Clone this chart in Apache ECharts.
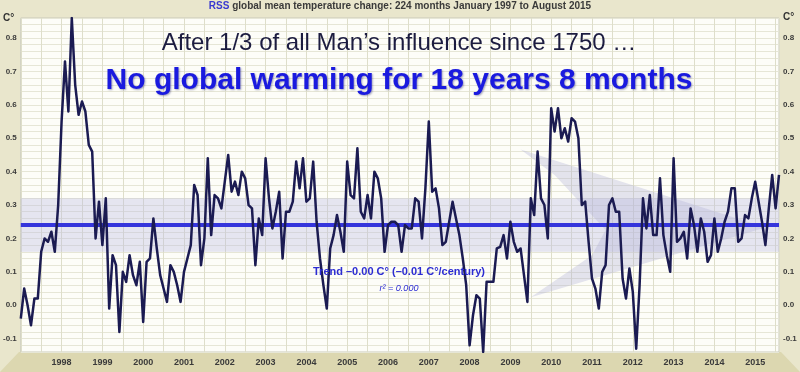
<!DOCTYPE html>
<html>
<head>
<meta charset="utf-8">
<script src="https://cdn.jsdelivr.net/npm/echarts@6/dist/echarts.min.js"></script>
<style>
html,body{margin:0;padding:0;background:#e9e6cc;}
#chart{width:800px;height:372px;}
</style>
</head>
<body>
<div id="chart"></div>
<script>
// Monthly RSS anomalies, Jan 1997 .. Aug 2015 (224 months)
const startYear = 1997;
const temps = [
 -0.04, 0.05, 0.00,-0.06, 0.02, 0.02, 0.16, 0.20, 0.19, 0.22, 0.16, 0.30,
  0.55, 0.73, 0.58, 0.86, 0.66, 0.57, 0.61, 0.58, 0.48, 0.46, 0.20, 0.31,
  0.18, 0.32,-0.01, 0.15, 0.12,-0.08, 0.10, 0.07, 0.15, 0.09, 0.06, 0.13,
 -0.05, 0.13, 0.14, 0.26, 0.17, 0.09, 0.05, 0.01, 0.12, 0.10, 0.06, 0.01,
  0.10, 0.14, 0.18, 0.36, 0.33, 0.12, 0.20, 0.44, 0.21, 0.33, 0.32, 0.29,
  0.37, 0.45, 0.34, 0.37, 0.33, 0.40, 0.38, 0.30, 0.29, 0.12, 0.26, 0.21,
  0.44, 0.32, 0.23, 0.28, 0.34, 0.14, 0.28, 0.28, 0.31, 0.43, 0.35, 0.44,
  0.31, 0.32, 0.43, 0.25, 0.14, 0.06,-0.01, 0.17, 0.21, 0.27, 0.22, 0.16,
  0.43, 0.33, 0.32, 0.47, 0.28, 0.26, 0.33, 0.26, 0.40, 0.38, 0.32, 0.16,
  0.24, 0.25, 0.25, 0.24, 0.16, 0.24, 0.23, 0.23, 0.32, 0.31, 0.20, 0.35,
  0.55, 0.34, 0.35, 0.29, 0.18, 0.19, 0.25, 0.31, 0.26, 0.21, 0.14, 0.06,
 -0.12,-0.03, 0.03, 0.02,-0.14, 0.07, 0.07, 0.07, 0.17, 0.175,0.21, 0.14,
  0.25, 0.19, 0.16, 0.17, 0.09, 0.01, 0.32, 0.27, 0.46, 0.32, 0.30, 0.20,
  0.59, 0.52, 0.59, 0.50, 0.53, 0.49, 0.56, 0.55, 0.50, 0.30, 0.31, 0.19,
  0.08, 0.05,-0.01, 0.10, 0.12, 0.30, 0.32, 0.28, 0.28, 0.08, 0.02, 0.11,
  0.04,-0.13, 0.06, 0.32, 0.23, 0.33, 0.21, 0.21, 0.38, 0.21, 0.15, 0.10,
  0.44, 0.19, 0.20, 0.22, 0.14, 0.29, 0.24, 0.16, 0.26, 0.22, 0.13, 0.15,
  0.26, 0.16, 0.20, 0.25, 0.28, 0.35, 0.35, 0.19, 0.20, 0.27, 0.26, 0.32,
  0.37, 0.31, 0.25, 0.18, 0.29, 0.39, 0.29, 0.39
];
const trendValue = 0.24;
const bandLow = 0.16, bandHigh = 0.32;
// decorative chevron in (month, value) coordinates
const chevronMonths = [147, 219, 150, 168, 172, 157];
const chevronValues = [0.466, 0.233, 0.024, 0.15, 0.225, 0.39];
const yTickLabels = [-0.1, 0.0, 0.1, 0.2, 0.3, 0.4, 0.5, 0.6, 0.7, 0.8];

const lastMonth = temps.length - 1;
const tempData = temps.map((v, i) => [i, v]);
const trendData = [[0, trendValue], [lastMonth, trendValue]];
const chevronData = chevronMonths.map((m, i) => [m, chevronValues[i]]);

const FONT = 'Liberation Sans, Arial, sans-serif';

function yLabel(v) {
  const r = Math.round(v * 100);
  const hit = yTickLabels.some(t => Math.round(t * 100) === r);
  return hit ? (r / 100).toFixed(1) : '';
}

const chart = echarts.init(document.getElementById('chart'), null, {renderer: 'canvas'});
chart.setOption({
  animation: false,
  backgroundColor: '#e9e6cc',
  textStyle: {fontFamily: FONT},
  grid: {left: 19, right: 21, top: 18, bottom: 20, show: true,
         backgroundColor: '#fdfdf8', borderColor: '#c9c9bb', borderWidth: 1},
  xAxis: {
    type: 'value', min: 0, max: lastMonth, interval: 6,
    axisLine: {show: false}, axisTick: {show: false},
    splitLine: {show: true, lineStyle: {color: '#dedeca', width: 1}},
    axisLabel: {
      margin: 6, fontSize: 9, fontWeight: 'bold', color: '#3a3a3a', fontFamily: FONT,
      formatter: v => (v > 0 && v % 12 === 0) ? String(startYear + v / 12) : ''
    }
  },
  yAxis: [{
    type: 'value', min: -0.14, max: 0.86, interval: 0.02, position: 'left',
    axisLine: {show: false}, axisTick: {show: false},
    splitLine: {show: true, lineStyle: {color: '#e6e6d6', width: 1}},
    axisLabel: {margin: 4, fontSize: 8, fontWeight: 'bold', color: '#3a3a3a', fontFamily: FONT, formatter: yLabel}
  }, {
    type: 'value', min: -0.14, max: 0.86, interval: 0.02, position: 'right',
    axisLine: {show: false}, axisTick: {show: false}, splitLine: {show: false},
    axisLabel: {margin: 4, fontSize: 8, fontWeight: 'bold', color: '#3a3a3a', fontFamily: FONT, formatter: yLabel}
  }],
  series: [
    {
      type: 'custom', z: 1, silent: true,
      renderItem: function (params, api) {
        if (params.dataIndex !== 0) return null;
        const pts = chevronData.map(p => api.coord(p));
        return {type: 'polygon', shape: {points: pts},
                style: {fill: 'rgba(175,175,215,0.34)', stroke: null}};
      },
      data: chevronData
    },
    {
      type: 'line', z: 2, data: trendData, showSymbol: false, silent: true,
      lineStyle: {color: '#3535dc', width: 4},
      markArea: {silent: true, itemStyle: {color: 'rgba(185,185,228,0.36)'},
                 data: [[{yAxis: bandLow}, {yAxis: bandHigh}]]}
    },
    {
      type: 'line', z: 3, data: tempData, showSymbol: false, silent: true,
      lineStyle: {color: '#1b1b52', width: 2.5, join: 'round'}
    }
  ],
  graphic: [
    {type: 'polygon', z: -1, shape: {points: [[19, 352], [781, 352], [800, 372], [0, 372]]},
     style: {fill: '#dcd7b0'}},
    {type: 'text', left: 'center', top: 1, style: {
      text: '{b|RSS} global mean temperature change: 224 months January 1997 to August 2015',
      font: 'bold 10px ' + FONT, fill: '#3a3a3a',
      rich: {b: {fill: '#3a3ad0', font: 'bold 10px ' + FONT}}}},
    {type: 'text', left: 3, top: 13, style: {text: 'C°', font: 'bold 10px ' + FONT, fill: '#333'}},
    {type: 'text', left: 783, top: 12, style: {text: 'C°', font: 'bold 10px ' + FONT, fill: '#333'}},
    {type: 'text', x: 399, y: 43, z: 10, style: {
      text: 'After 1/3 of all Man\u2019s influence since 1750 \u2026',
      font: '24px ' + FONT, fill: '#1c1c40', align: 'center', verticalAlign: 'middle'}},
    {type: 'text', x: 399, y: 81, z: 10, style: {
      text: 'No global warming for 18 years 8 months',
      font: 'bold 30px ' + FONT, fill: '#1a1adf', align: 'center', verticalAlign: 'middle',
      textShadowColor: 'rgba(0,0,80,0.35)', textShadowBlur: 2, textShadowOffsetX: 1, textShadowOffsetY: 1}},
    {type: 'text', x: 399, y: 272, z: 10, style: {
      text: 'Trend \u20130.00 C° (\u20130.01 C°/century)',
      font: 'bold 11px ' + FONT, fill: '#2c2cd2', align: 'center', verticalAlign: 'middle'}},
    {type: 'text', x: 399, y: 288, z: 10, style: {
      text: 'r² = 0.000',
      font: 'italic 9px ' + FONT, fill: '#2c2cd2', align: 'center', verticalAlign: 'middle'}}
  ]
});
</script>
</body>
</html>
